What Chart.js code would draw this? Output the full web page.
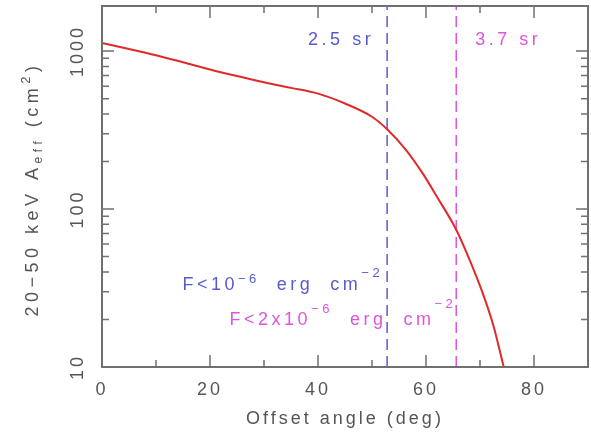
<!DOCTYPE html>
<html>
<head>
<meta charset="utf-8">
<script src="https://cdn.jsdelivr.net/npm/chart.js@4/dist/chart.umd.min.js"></script>
<style>
html, body { margin: 0; padding: 0; background: #fff; overflow: hidden; }
#wrap { width: 591px; height: 434px; }
</style>
</head>
<body>
<div id="wrap"><canvas id="effarea"></canvas></div>
<script>
// effective area (cm^2) (deg)
var angles = [0, 5, 10, 15, 20, 25, 30, 35, 40, 45, 50, 52.8, 56.2, 59.3, 62, 65.6, 68, 70.4, 72.5, 74.4];
var areas = [1125, 1032, 942, 850, 765, 695, 635, 585, 538, 466, 384, 320, 239, 170, 120, 74, 48.4, 30, 18.2, 10];
var xTicks = [0, 20, 40, 60, 80];
var yTicks = [10, 100, 1000];
var limitAngles = [52.8, 65.6];
var limitLabels = ['2.5 sr', '3.7 sr'];

var BLUE = '#5a5ad0';
var MAGENTA = '#dd55dd';
var GREY = '#555';
var SPACING = '3px';

var curve = angles.map(function(a, i){ return {x: a, y: areas[i]}; });
function vline(a){ return [{x: a, y: 10}, {x: a, y: 1930}]; }

// draw text made of pieces [text, size, raise], starting at x (or ending at x)
function richText(ctx, pieces, x, y, align){
    var total = 0;
    pieces.forEach(function(p){
        ctx.font = p[1] + 'px "Liberation Sans", Arial, sans-serif';
        total += ctx.measureText(p[0]).width;
    });
    var cx = align == 'right' ? x - total : (align == 'center' ? x - total/2 : x);
    ctx.textAlign = 'left';
    ctx.textBaseline = 'alphabetic';
    pieces.forEach(function(p){
        ctx.font = p[1] + 'px "Liberation Sans", Arial, sans-serif';
        ctx.fillText(p[0], cx, y - p[2]);
        cx += ctx.measureText(p[0]).width;
    });
}

var frame = {
    id: 'frame',
    beforeDraw: function(chart){
        chart.ctx.letterSpacing = SPACING;
    },
    afterDatasetsDraw: function(chart){
        var ctx = chart.ctx, a = chart.chartArea;
        var xs = chart.scales.x, ys = chart.scales.y;
        ctx.save();
        ctx.strokeStyle = '#707070';
        ctx.lineWidth = 2;
        ctx.strokeRect(a.left, a.top, a.right - a.left, a.bottom - a.top);

        ctx.lineWidth = 1.5;
        ctx.beginPath();
        for (var v = 10; v < 90; v += 10) {
            var len = v % 20 == 0 ? 12 : 7;
            var px = xs.getPixelForValue(v);
            ctx.moveTo(px, a.bottom); ctx.lineTo(px, a.bottom - len);
            ctx.moveTo(px, a.top); ctx.lineTo(px, a.top + len);
        }
        for (var d = 10; d <= 1000; d *= 10) {
            for (var k = 1; k <= 9; k++) {
                var val = d * k;
                if (val >= ys.max || val <= ys.min) continue;
                var l = k == 1 ? 12 : 7;
                var py = ys.getPixelForValue(val);
                ctx.moveTo(a.left, py); ctx.lineTo(a.left + l, py);
                ctx.moveTo(a.right, py); ctx.lineTo(a.right - l, py);
            }
        }
        ctx.stroke();

        // solid angle labels next to the dashed limits
        ctx.letterSpacing = '3.5px';
        var bx = xs.getPixelForValue(limitAngles[0]);
        var mx = xs.getPixelForValue(limitAngles[1]);
        ctx.fillStyle = BLUE;
        richText(ctx, [[limitLabels[0], 18, 0]], bx - 13, 45, 'right');
        ctx.fillStyle = MAGENTA;
        richText(ctx, [[limitLabels[1], 18, 0]], mx + 19, 45, 'left');

        // flux limits
        ctx.fillStyle = BLUE;
        richText(ctx, [['F<10', 18, 0], ['\u22126', 13, 7], ['  erg  cm', 18, 0], ['\u22122', 13, 13]], bx - 4, 290, 'right');
        ctx.fillStyle = MAGENTA;
        richText(ctx, [['F<2x10', 18, 0], ['\u22126', 13, 12], ['  erg  cm', 18, 0], ['\u22122', 13, 17]], mx, 325, 'right');

        // y axis title, rotated
        ctx.letterSpacing = '4.5px';
        ctx.fillStyle = GREY;
        ctx.translate(38, 189);
        ctx.rotate(-Math.PI / 2);
        richText(ctx, [['20\u221250 keV A', 18, 0], ['eff', 12, -4], [' (cm', 18, 0], ['2', 13, 8], [')', 18, 0]], 0, 0, 'center');
        ctx.restore();
    }
};

Chart.defaults.font.family = '"Liberation Sans", Arial, sans-serif';
Chart.defaults.color = GREY;

var chart = new Chart(document.getElementById('effarea'), {
    type: 'line',
    data: {
        datasets: [{
            data: curve,
            borderColor: '#e02a2a',
            borderWidth: 2,
            pointRadius: 0,
            tension: 0.4,
            cubicInterpolationMode: 'monotone'
        }, {
            data: vline(limitAngles[0]),
            borderColor: BLUE,
            borderWidth: 1.5,
            borderDash: [11, 6],
            pointRadius: 0
        }, {
            data: vline(limitAngles[1]),
            borderColor: MAGENTA,
            borderWidth: 1.5,
            borderDash: [11, 6],
            pointRadius: 0
        }]
    },
    options: {
        responsive: true,
        maintainAspectRatio: false,
        animation: false,
        events: [],
        layout: { padding: { top: 6, right: 3, left: 0, bottom: 0 } },
        plugins: { legend: { display: false }, tooltip: { enabled: false } },
        scales: {
            x: {
                type: 'linear',
                min: 0, max: 90,
                grid: { display: false, drawTicks: false },
                border: { display: false },
                afterBuildTicks: function(s){ s.ticks = xTicks.map(function(v){ return {value: v}; }); },
                afterFit: function(s){ s.height = 67; s.paddingLeft = 0; s.paddingRight = 0; },
                ticks: { font: { size: 18 }, color: GREY, padding: 12, maxRotation: 0 },
                title: { display: true, text: 'Offset angle (deg)', font: { size: 18 }, color: GREY, padding: { top: 0, bottom: 4 } }
            },
            y: {
                type: 'logarithmic',
                min: 10, max: 1930,
                grid: { display: false, drawTicks: false },
                border: { display: false },
                afterBuildTicks: function(s){ s.ticks = yTicks.map(function(v){ return {value: v}; }); },
                afterFit: function(s){ s.width = 102; s.paddingTop = 0; s.paddingBottom = 0; },
                ticks: {
                    font: { size: 18 }, color: GREY,
                    minRotation: 90, maxRotation: 90,
                    crossAlign: 'center', padding: 4,
                    callback: function(v){ return String(v); }
                }
            }
        }
    },
    plugins: [frame]
});
</script>
</body>
</html>
